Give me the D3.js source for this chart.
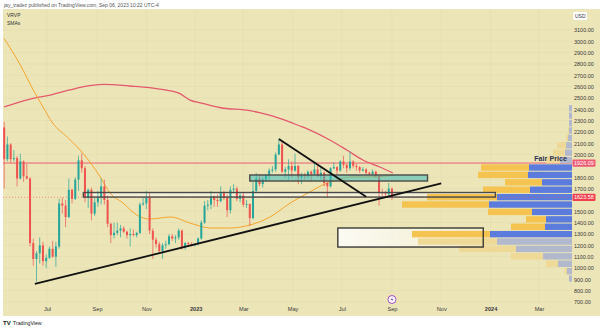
<!DOCTYPE html>
<html><head><meta charset="utf-8">
<script src="https://cdn.jsdelivr.net/npm/d3@7"></script>
<style>
body{margin:0;background:#fff;}
svg{display:block;font-family:"Liberation Sans",Arial,sans-serif;}
</style>
</head><body>
<svg id="chart" width="600" height="330"></svg>
<script>
// ---------------- DATA ----------------
const candleStart = "2022-05-09";
const candleStepDays = 4;
const candleOpen  = [2240,1960,2090,1960,1970,1790,1940,1810,1790,1220,1080,1130,1200,1060,1090,1170,1100,1190,1570,1550,1450,1690,1610,1780,1950,1880,1620,1690,1480,1580,1620,1720,1600,1390,1290,1310,1330,1350,1320,1290,1300,1290,1310,1560,1570,1620,1330,1250,1210,1150,1200,1210,1280,1260,1270,1330,1180,1220,1210,1200,1210,1260,1400,1550,1560,1630,1600,1590,1660,1620,1510,1690,1700,1610,1640,1560,1565,1440,1680,1790,1740,1780,1820,1860,1870,2000,2090,1850,1870,1900,1860,1900,1800,1820,1810,1850,1830,1870,1810,1840,1750,1720,1880,1890,1860,1940,1910,1880,1940,1900,1890,1860,1870,1840,1830,1850,1810,1670,1660,1650,1700];
const candleHigh  = [2290,2160,2100,2040,1990,2010,1950,1920,1800,1260,1150,1270,1230,1120,1190,1240,1230,1610,1620,1600,1790,1700,1800,1990,2010,1900,1700,1710,1620,1680,1790,1780,1640,1400,1400,1400,1380,1370,1330,1350,1340,1320,1580,1620,1680,1660,1350,1270,1230,1220,1240,1300,1300,1290,1350,1340,1230,1230,1230,1220,1270,1420,1590,1600,1680,1640,1650,1720,1680,1650,1720,1740,1720,1660,1670,1600,1570,1760,1840,1830,1800,1830,1880,1900,2020,2140,2120,1890,1960,1940,2010,1910,1840,1840,1860,1860,1930,1900,1890,1850,1760,1890,1930,1900,1950,1990,1920,2030,1950,1920,1900,1890,1880,1850,1870,1860,1820,1700,1680,1750,1710];
const candleLow   = [1700,1940,1930,1940,1720,1780,1760,1780,1190,1020,880,1040,1020,1000,1080,1090,1010,1170,1480,1360,1440,1570,1600,1680,1840,1580,1530,1420,1460,1540,1560,1560,1360,1220,1260,1290,1270,1310,1260,1190,1280,1270,1300,1550,1520,1300,1080,1180,1130,1080,1170,1200,1240,1220,1250,1160,1160,1200,1190,1190,1200,1250,1390,1510,1520,1540,1540,1580,1600,1450,1480,1660,1590,1580,1540,1530,1370,1430,1670,1720,1710,1760,1780,1840,1850,2000,1840,1800,1780,1800,1850,1740,1740,1780,1790,1760,1820,1800,1780,1720,1620,1710,1870,1820,1850,1880,1840,1860,1880,1860,1840,1850,1820,1810,1820,1800,1550,1630,1620,1640,1600];
const candleClose = [1960,2090,1960,1970,1790,1940,1810,1790,1220,1080,1130,1200,1060,1090,1170,1100,1190,1570,1550,1450,1690,1610,1780,1950,1880,1620,1690,1480,1580,1620,1720,1600,1390,1290,1310,1330,1350,1320,1290,1300,1290,1310,1560,1570,1620,1330,1250,1210,1150,1200,1210,1280,1260,1270,1330,1180,1220,1210,1200,1210,1260,1400,1550,1560,1630,1600,1590,1660,1620,1510,1690,1700,1610,1640,1560,1565,1440,1680,1790,1740,1780,1820,1860,1870,2000,2090,1850,1870,1900,1860,1900,1800,1820,1810,1850,1830,1870,1810,1840,1750,1720,1880,1890,1860,1940,1910,1880,1940,1900,1890,1860,1870,1840,1830,1850,1810,1670,1660,1650,1700,1623.58];

// SMA (fast, orange) and SMA (slow, red)
const smaFastDates  = ["2022-05-09","2022-05-29","2022-06-14","2022-06-26","2022-07-08","2022-07-26","2022-08-11","2022-09-05","2022-09-17","2022-10-03","2022-10-20","2022-11-05","2022-12-01","2022-12-25","2023-01-19","2023-02-12","2023-03-09","2023-04-03","2023-04-28","2023-05-22","2023-06-07","2023-06-25","2023-07-11","2023-08-01","2023-08-26","2023-09-03"];
const smaFastValues = [3025,2791,2571,2421,2279,2156,2041,1803,1662,1574,1468,1432,1450,1397,1353,1353,1379,1450,1573,1670,1732,1776,1803,1803,1812,1822];
const smaSlowDates  = ["2022-05-09","2022-06-10","2022-07-05","2022-07-29","2022-08-23","2022-09-10","2022-10-11","2022-11-05","2022-11-24","2022-12-12","2022-12-25","2023-01-07","2023-02-01","2023-03-09","2023-03-21","2023-04-15","2023-05-10","2023-05-22","2023-06-16","2023-07-07","2023-07-27","2023-08-17","2023-09-02"];
const smaSlowValues = [2421,2491,2526,2571,2609,2621,2606,2591,2571,2541,2482,2456,2414,2388,2370,2321,2253,2218,2129,2041,1953,1891,1838];

// Visible-range volume profile: 24 rows from bottom to top
const vpLowPrice = 874;
const vpRowSize = 65.33;
const vpUpVolume   = [3,5,14,29,56,75,82,27,26,40,83,75,42,30,44,43,12,7,6,4,3,3,3,3];
const vpDownVolume = [0,2,12,32,57,79,78,34,20,44,87,70,47,37,50,48,14,12,9,2,1,0,0,0];
const vpValueAreaRows = [6,15];

// Axis ticks
const timeTickDates  = ["2022-07-01","2022-09-01","2022-11-01","2023-01-01","2023-03-01","2023-05-01","2023-07-01","2023-09-01","2023-11-01","2024-01-01","2024-03-01"];
const timeTickLabels = ["Jul","Sep","Nov","2023","Mar","May","Jul","Sep","Nov","2024","Mar"];
const priceTicks = [3100,3000,2900,2800,2700,2600,2500,2400,2300,2200,2100,2000,1800,1700,1500,1400,1300,1200,1100,1000,900,800,700];

// Drawings
const markedLevel = 1926.09;
const lastPrice = 1623.58;
const zoneRect    = {from:"2023-03-09", to:"2023-10-15", low:1767.6, high:1820.6};
const supportRect = {from:"2022-08-15", to:"2024-01-07", low:1626, high:1666};
const targetRect  = {from:"2023-06-26", to:"2023-12-23", low:1185, high:1353};
const trendUp   = [["2022-06-16",859],["2023-11-01",1747]];
const trendDown = [["2023-04-14",2138],["2023-07-31",1629]];
const eventDate = "2023-09-01";

// ---------------- DRAW ----------------
const parse = d3.utcParse("%Y-%m-%d");
const svg = d3.select("#chart");
const paneL = 3, paneR = 572, paneT = 9, paneB = 303;

const x = d3.scaleUtc().domain([parse("2022-07-01"), parse("2024-03-01")]).range([47, 539]);
const y = d3.scaleLinear().domain([700, 3100]).range([302, 30]);

const bg = "#ece5b8";
svg.append("rect").attr("x",paneL).attr("y",paneT).attr("width",600-paneL).attr("height",316-paneT).attr("fill",bg);

// header
svg.append("text").attr("x",4).attr("y",7).attr("font-size",5).attr("fill","#555")
  .text("jay_tradez published on TradingView.com, Sep 06, 2023 10:22 UTC-4");

svg.append("defs").append("clipPath").attr("id","pane")
  .append("rect").attr("x",paneL).attr("y",paneT).attr("width",paneR-paneL).attr("height",paneB-paneT);
const pane = svg.append("g").attr("clip-path","url(#pane)");

// faint grid
pane.selectAll("line.hg").data(priceTicks).join("line").attr("class","hg")
  .attr("x1",paneL).attr("x2",paneR).attr("y1",d=>y(d)).attr("y2",d=>y(d))
  .attr("stroke","#000").attr("stroke-opacity",0.025);
pane.selectAll("line.vg").data(timeTickDates).join("line").attr("class","vg")
  .attr("x1",d=>x(parse(d))).attr("x2",d=>x(parse(d))).attr("y1",paneT).attr("y2",paneB)
  .attr("stroke","#000").attr("stroke-opacity",0.025);

// volume profile
const vpX = d3.scaleLinear().domain([0,170]).range([0,170]);
const rows = vpUpVolume.map((u,i)=>({i, up:u, down:vpDownVolume[i],
  top:y(vpLowPrice+(i+1)*vpRowSize), bot:y(vpLowPrice+i*vpRowSize),
  va: i>=vpValueAreaRows[0] && i<=vpValueAreaRows[1]}));

// red level line
pane.append("line").attr("x1",paneL).attr("x2",paneR).attr("y1",y(markedLevel)).attr("y2",y(markedLevel))
  .attr("stroke","#ec5f72").attr("stroke-width",1);

// rect fills under profile
function rectFrom(r){ return {x:x(parse(r.from)), w:x(parse(r.to))-x(parse(r.from)), y:y(r.high), h:y(r.low)-y(r.high)}; }
const sR = rectFrom(supportRect), tR = rectFrom(targetRect), zR = rectFrom(zoneRect);
pane.append("rect").attr("x",sR.x).attr("y",sR.y).attr("width",sR.w).attr("height",sR.h).attr("fill","rgba(255,255,255,0.45)");
const grad = svg.select("defs").append("linearGradient").attr("id","tg");
grad.append("stop").attr("offset","0%").attr("stop-color","#fff").attr("stop-opacity",0.85);
grad.append("stop").attr("offset","100%").attr("stop-color","#fff").attr("stop-opacity",0.25);
pane.append("rect").attr("x",tR.x).attr("y",tR.y).attr("width",tR.w).attr("height",tR.h).attr("fill","url(#tg)");

const vpg = pane.append("g");
rows.forEach(r=>{
  const h = Math.max(0.5, r.bot - r.top - 1);
  const upW = vpX(r.up), dnW = vpX(r.down);
  vpg.append("rect").attr("x",paneR-upW).attr("y",r.top+0.5).attr("width",upW).attr("height",h)
    .attr("fill", r.va ? "#5b7cdc" : "#b2b9cc");
  vpg.append("rect").attr("x",paneR-upW-dnW).attr("y",r.top+0.5).attr("width",dnW).attr("height",h)
    .attr("fill", r.va ? "#f5c450" : "#efd996");
});

pane.append("line").attr("x1",paneL).attr("x2",paneR).attr("y1",y(lastPrice)).attr("y2",y(lastPrice))
  .attr("stroke","#ef5350").attr("stroke-opacity",0.55).attr("stroke-dasharray","1,2");

// SMAs
const line = d3.line().x(d=>x(d[0])).y(d=>y(d[1])).curve(d3.curveMonotoneX);
pane.append("path").datum(smaSlowDates.map((d,i)=>[parse(d),smaSlowValues[i]]))
  .attr("d",line).attr("fill","none").attr("stroke","#e35a6c").attr("stroke-width",1.3);
pane.append("path").datum(smaFastDates.map((d,i)=>[parse(d),smaFastValues[i]]))
  .attr("d",line).attr("fill","none").attr("stroke","#f5a52a").attr("stroke-width",1);

// candles
const t0 = parse(candleStart);
const candles = candleOpen.map((o,i)=>({t:d3.utcDay.offset(t0, i*candleStepDays), o, h:candleHigh[i], l:candleLow[i], c:candleClose[i]}));
const step = x(d3.utcDay.offset(t0,candleStepDays)) - x(t0);
const bw = Math.max(1, step*0.62);
const cg = pane.append("g");
candles.forEach(d=>{
  const col = d.c >= d.o ? "#26a69a" : "#ef5350";
  const cx = x(d.t);
  cg.append("line").attr("x1",cx).attr("x2",cx).attr("y1",y(d.h)).attr("y2",y(d.l)).attr("stroke",col).attr("stroke-width",0.7);
  const top = y(Math.max(d.o,d.c)), bot = y(Math.min(d.o,d.c));
  cg.append("rect").attr("x",cx-bw/2).attr("y",top).attr("width",bw).attr("height",Math.max(0.8,bot-top)).attr("fill",col);
});

// drawings on top
pane.append("rect").attr("x",zR.x).attr("y",zR.y).attr("width",zR.w).attr("height",zR.h)
  .attr("fill","rgba(60,190,185,0.55)").attr("stroke","#4a4a48").attr("stroke-width",1.4);
pane.append("rect").attr("x",sR.x).attr("y",sR.y).attr("width",sR.w).attr("height",sR.h)
  .attr("fill","none").attr("stroke","#4a4a48").attr("stroke-width",1.4);
pane.append("rect").attr("x",tR.x).attr("y",tR.y).attr("width",tR.w).attr("height",tR.h)
  .attr("fill","none").attr("stroke","#3a3a36").attr("stroke-width",1.4);
const seg = d3.line().x(d=>x(parse(d[0]))).y(d=>y(d[1]));
pane.append("path").datum(trendUp).attr("d",seg).attr("stroke","#111").attr("stroke-width",1.8).attr("fill","none");
pane.append("path").datum(trendDown).attr("d",seg).attr("stroke","#111").attr("stroke-width",1.8).attr("fill","none");

// Fair Price label
svg.append("text").attr("x",567).attr("y",161).attr("text-anchor","end").attr("font-size",7.2)
  .attr("font-weight","bold").attr("fill","#2b3350").text("Fair Price");

// legend
svg.append("text").attr("x",7).attr("y",17).attr("font-size",5).attr("fill","#333").text("VRVP");
svg.append("text").attr("x",7).attr("y",25).attr("font-size",5).attr("fill","#333").text("SMAs");

// price axis
const yAxis = d3.axisRight(y).tickValues(priceTicks).tickFormat(d3.format(".2f")).tickSize(0).tickPadding(0);
const ya = svg.append("g").attr("transform","translate(574,0)").call(yAxis);
ya.select(".domain").remove();
ya.selectAll("text").attr("font-size",5.5).attr("fill","#3a3a3a").attr("font-family","Liberation Sans, Arial, sans-serif");

// price tags
function tag(v, fill){
  const g = svg.append("g");
  g.append("rect").attr("x",572.5).attr("y",y(v)-3.6).attr("width",23).attr("height",7.2).attr("rx",1).attr("fill",fill);
  g.append("text").attr("x",574).attr("y",y(v)+2).attr("font-size",5.5).attr("fill","#fff").text(d3.format(".2f")(v));
}
tag(markedLevel, "#ef5b75");
tag(lastPrice, "#f0404f");

// USD box
svg.append("rect").attr("x",573).attr("y",12).attr("width",14).attr("height",8).attr("fill","#fff").attr("rx",1);
svg.append("text").attr("x",575).attr("y",18).attr("font-size",5).attr("fill","#333").text("USD");

// time axis
const xAxis = d3.axisBottom(x).tickValues(timeTickDates.map(parse))
  .tickFormat((d,i)=>timeTickLabels[i]).tickSize(0).tickPadding(0);
const xa = svg.append("g").attr("transform","translate(0,307)").call(xAxis);
xa.select(".domain").remove();
xa.selectAll("text").attr("font-size",5.6).attr("fill","#3a3a3a").attr("font-family","Liberation Sans, Arial, sans-serif")
  .attr("font-weight",(d,i)=>/^\d{4}$/.test(timeTickLabels[i]) ? "bold" : "normal");

// event marker
const ex = x(parse(eventDate));
svg.append("circle").attr("cx",ex).attr("cy",299.5).attr("r",4).attr("fill","#fff").attr("stroke","#a04bc4").attr("stroke-width",1);
svg.append("path").attr("d",`M${ex+0.8},${296.8} L${ex-1.4},${300} L${ex+0.2},${300} L${ex-0.8},${302.3} L${ex+1.5},${299} L${ex-0.1},${299} Z`).attr("fill","#a04bc4");

// footer
svg.append("text").attr("x",3).attr("y",325).attr("font-size",6).attr("font-weight","bold").attr("fill","#131722").text("TV");
svg.append("text").attr("x",13).attr("y",325).attr("font-size",5.2).attr("fill","#131722").text("TradingView");
</script>
</body></html>
